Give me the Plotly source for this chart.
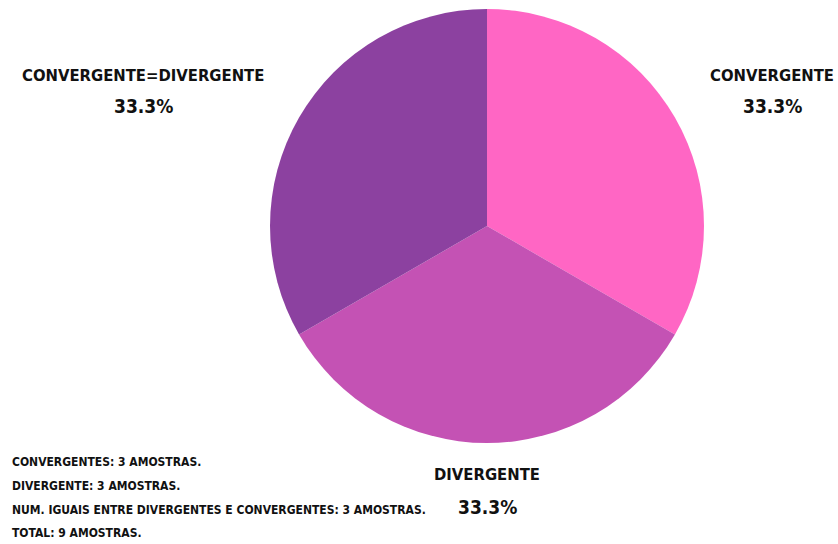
import plotly.graph_objects as go

W, H = 838, 544

# Slice data
labels = ["CONVERGENTE", "DIVERGENTE", "CONVERGENTE=DIVERGENTE"]
values = [3, 3, 3]
colors = ["#FF66C4", "#C452B4", "#8C41A0"]

# Summary lines shown in the lower-left corner
summary_names = [
    "CONVERGENTES",
    "DIVERGENTE",
    "NUM. IGUAIS ENTRE DIVERGENTES E CONVERGENTES",
    "TOTAL",
]
summary_counts = [3, 3, 3, 9]

FONT = "'DejaVu Sans Condensed', 'Arial Narrow', 'Liberation Sans Narrow', sans-serif"

# Pie placement in pixels (centre and radius)
cx, cy, r = 487, 226, 217


def px(x):
    return x / W


def py(y):
    return 1 - y / H


fig = go.Figure(
    go.Pie(
        labels=labels,
        values=values,
        marker=dict(colors=colors, line=dict(width=0)),
        sort=False,
        direction="clockwise",
        rotation=0,
        textinfo="none",
        hoverinfo="label+percent",
        showlegend=False,
        domain=dict(x=[px(cx - r), px(cx + r)], y=[py(cy + r), py(cy - r)]),
    )
)

total = sum(values)
# label name and percentage positions (pixel centres)
label_pos = {
    "CONVERGENTE": (772, 76, 106),
    "DIVERGENTE": (487, 474, 507),
    "CONVERGENTE=DIVERGENTE": (143, 76, 106),
}

annotations = []
for lab, val in zip(labels, values):
    x, y1, y2 = label_pos[lab]
    pct = f"{val / total * 100:.1f}%"
    for txt, yy, size in ((lab, y1, 16.5), (pct, y2, 19)):
        annotations.append(dict(
            text=f"<b>{txt}</b>", x=px(x), y=py(yy), xref="paper", yref="paper",
            xanchor="center", yanchor="middle", showarrow=False,
            font=dict(family=FONT, size=size, color="#111111"),
        ))

for i, (name, cnt) in enumerate(zip(summary_names, summary_counts)):
    annotations.append(dict(
        text=f"<b>{name}: {cnt} AMOSTRAS.</b>", x=px(10), y=py(462 + i * 23.8),
        xref="paper", yref="paper", xanchor="left", yanchor="middle",
        showarrow=False, font=dict(family=FONT, size=12, color="#111111"),
    ))

fig.update_layout(
    width=W, height=H,
    margin=dict(l=0, r=0, t=0, b=0),
    paper_bgcolor="white", plot_bgcolor="white",
    annotations=annotations,
)

fig.write_html("out.html")
